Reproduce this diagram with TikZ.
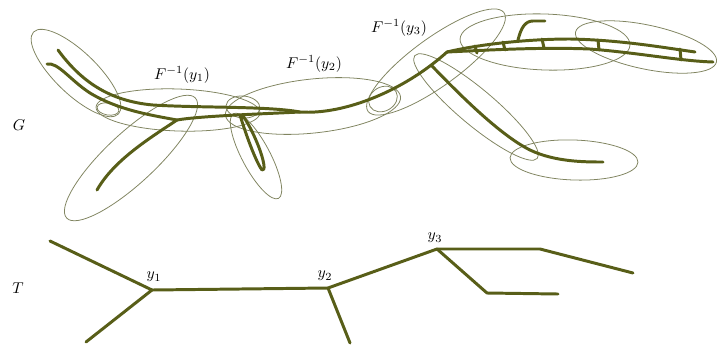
\documentclass[tikz,border=0pt]{standalone}
\usepackage{amsmath}
\definecolor{olivestrand}{RGB}{88,94,24}
\definecolor{olivering}{RGB}{128,132,96}
\begin{document}
\begin{tikzpicture}[x=0.64pt, y=-0.64pt, line join=round, line cap=round,
	strand/.style={olivestrand, line width=1.9pt},
	ring/.style={olivering, line width=0.5pt},
	lab/.style={inner sep=1pt}]
	\useasboundingbox (0,0) rectangle (718,360);
	
	% 图 G
	\node[lab] (G) at (19,125) {$G$};
	
	% 椭圆（原像）
	\draw[ring, rotate around={-44:(76,73)}] (76,73) ellipse (59 and 21);
	\draw[ring, rotate around={-10:(108,109)}] (108,109) ellipse (11 and 6);
	\draw[ring, rotate around={-2:(178,110)}] (178,110) ellipse (82 and 21);
	\draw[ring, rotate around={43:(131,158)}] (131,158) ellipse (88 and 25);
	\draw[ring, rotate around={-5:(243,107)}] (243,107) ellipse (17 and 11);
	\draw[ring, rotate around={-62:(256,156)}] (256,156) ellipse (48 and 14);
	\draw[ring, rotate around={6:(313,106)}] (313,106) ellipse (88 and 27);
	\draw[ring, rotate around={30:(383,99)}] (383,99) ellipse (15 and 12);
	\draw[ring, rotate around={36:(436,62)}] (436,62) ellipse (84 and 24);
	\draw[ring, rotate around={-40:(476,107)}] (476,107) ellipse (80 and 18);
	\draw[ring, rotate around={-2:(545,42)}] (545,42) ellipse (85 and 28);
	\draw[ring, rotate around={-12:(646,47)}] (646,47) ellipse (72 and 22);
	\draw[ring, rotate around={-2:(574,160)}] (574,160) ellipse (64 and 20);
	
	% 主干与分支
	\draw[strand] (58,50) .. controls (80,80) and (108,101) .. (153,105)
		.. controls (200,108) and (268,106) .. (300,112)
		.. controls (345,115) and (405,90) .. (447,52);
	\draw[strand] (47,64) .. controls (58,62) and (70,80) .. (90,93)
		.. controls (118,110) and (150,115) .. (177,120);
	\draw[strand] (177,120) .. controls (200,116) and (260,114) .. (300,112);
	\draw[strand] (177,120) .. controls (150,138) and (114,160) .. (97,190);
	\draw[strand] (240,115) .. controls (246,135) and (256,162) .. (262,170)
		.. controls (266,172) and (264,160) .. (258,145)
		.. controls (252,130) and (246,120) .. (243,116);
	\draw[strand] (432,66) .. controls (460,95) and (500,135) .. (530,150)
		.. controls (555,162) and (585,162) .. (603,162);
	
	% 梯形部分
	\draw[strand] (447,52) .. controls (480,44) and (530,39) .. (570,39)
		.. controls (620,40) and (660,47) .. (695,52);
	\draw[strand] (447,52) .. controls (490,50) and (540,47) .. (590,49)
		.. controls (640,53) and (680,61) .. (713,62);
	\draw[strand] (475,46) -- (477,53);
	\draw[strand] (503,42) -- (505,50);
	\draw[strand] (542,39) -- (544,48);
	\draw[strand] (598,40) -- (599,50);
	\draw[strand] (680,49) -- (681,60);
	\draw[strand] (518,40) .. controls (521,28) and (525,21) .. (533,21) -- (545,21);
	
	% 标签
	\node[lab] (Fy1) at (182,75) {$F^{-1}(y_1)$};
	\node[lab] (Fy2) at (314,64) {$F^{-1}(y_2)$};
	\node[lab] (Fy3) at (399,28) {$F^{-1}(y_3)$};
	
	% 树 T
	\node[lab] (T) at (18,288) {$T$};
	\coordinate (a) at (50,241);
	\coordinate (y1) at (152,290);
	\coordinate (b) at (86,342);
	\coordinate (y2) at (328,288);
	\coordinate (c) at (350,343);
	\coordinate (y3) at (437,249);
	\coordinate (d) at (540,249);
	\coordinate (e) at (633,273);
	\coordinate (f) at (487,293);
	\coordinate (g) at (558,294);
	
	\draw[strand] (a) -- (y1) -- (b);
	\draw[strand] (y1) -- (y2) -- (c);
	\draw[strand] (y2) -- (y3) -- (d) -- (e);
	\draw[strand] (y3) -- (f) -- (g);
	
	\node[lab] (ly1) at (154,277) {$y_1$};
	\node[lab] (ly2) at (325,276) {$y_2$};
	\node[lab] (ly3) at (435,238) {$y_3$};
\end{tikzpicture}
\end{document}
